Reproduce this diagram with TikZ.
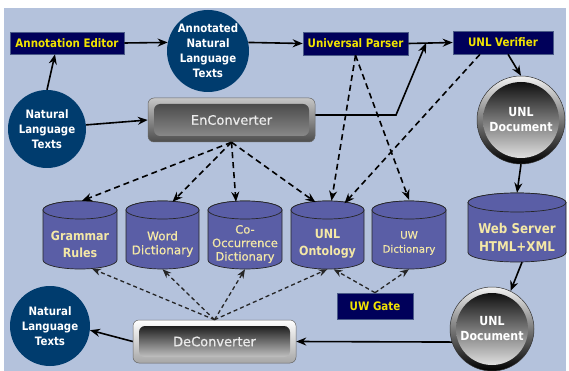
\documentclass[tikz,border=0pt]{standalone}
\usepackage{fontspec}
\setmainfont{DejaVu Sans}
\newfontfamily\bld{DejaVu Sans}[FakeStretch=0.88]
\newfontfamily\med{DejaVu Sans}[FakeBold=0.6]
\usetikzlibrary{arrows.meta,calc}
\definecolor{bgc}{HTML}{B4C2DC}
\definecolor{navy}{HTML}{00005A}
\definecolor{navyedge}{HTML}{4A5A88}
\definecolor{yel}{HTML}{F2E400}
\definecolor{dblue}{HTML}{003C6E}
\definecolor{cylc}{HTML}{5A5EA6}
\definecolor{cyltxt}{HTML}{F4E8A6}
\tikzset{
  navybox/.style={rectangle,fill=navy,draw=navyedge,line width=0.6pt,text=yel,
    font=\bld\bfseries\fontsize{11.7}{13}\selectfont,inner sep=0pt},
  blobc/.style={circle,fill=dblue,text=white,inner sep=0pt,align=center,
    font=\bld\bfseries\fontsize{11.6}{15}\selectfont},
  cylbody/.style={fill=cylc,draw=black!85,line width=0.7pt},
  cyl/.style={rectangle,inner sep=0pt,text=cyltxt,align=center},
  cylbig/.style={cyl,font=\bld\bfseries\fontsize{12.6}{17}\selectfont},
  cylsmall/.style={cyl,font=\med\fontsize{12}{14}\selectfont},
  convbox/.style={rectangle,rounded corners=6pt,draw=black!60,line width=0.5pt,
    text=white!92!black,font=\med\fontsize{13}{15}\selectfont,inner sep=0pt},
  docball/.style={circle,draw=black!80,line width=0.5pt,top color=gray!10,bottom color=black,
    text=white,align=center,inner sep=0pt,font=\bld\bfseries\fontsize{12.5}{15}\selectfont},
  arr/.style={draw=black,line width=1.6pt,-{Stealth[length=10pt,width=8pt]}},
  darr/.style={draw=black,line width=1.6pt,dash pattern=on 6pt off 4pt,-{Stealth[length=10pt,width=8pt]}},
  darrthin/.style={draw=black!85,line width=1.3pt,dash pattern=on 4pt off 3pt,-{Stealth[length=9pt,width=7pt]}}
}
% #1 cx, #2 top y, #3 bottom y, #4 x radius, #5 y radius (image coordinates, y down)
\newcommand{\cylshape}[5]{%
  \path[cylbody] (#1-#4,#2+#5) -- (#1-#4,#3-#5)
    arc[start angle=180,end angle=0,x radius=#4,y radius=#5]
    -- (#1+#4,#2+#5)
    arc[start angle=0,end angle=-180,x radius=#4,y radius=#5] -- cycle;
  \path[cylbody] (#1,#2+#5) ellipse[x radius=#4,y radius=#5];
}
\begin{document}
\begin{tikzpicture}[x=1pt,y=-1pt]
\useasboundingbox (0,0) rectangle (569,371);
\fill[bgc] (4,8) rectangle (566,371);

% top row
\node[navybox,minimum width=114pt,minimum height=22pt] (ae) at (67,43) {Annotation Editor};
\node[blobc,minimum size=82pt] (ant) at (208,51) {Annotated\\Natural\\Language\\Texts};
\node[navybox,minimum width=105pt,minimum height=23pt] (up) at (355.5,43.5) {Universal Parser};
\node[navybox,minimum width=100pt,minimum height=23pt] (ver) at (503,42.5) {UNL Verifier};

\node[blobc,minimum size=78pt] (nlt1) at (47,129) {Natural\\Language\\Texts};

\node[convbox,minimum width=167pt,minimum height=44pt,top color=gray!45,bottom color=black!70,
  path picture={\shade[top color=black!75,bottom color=black!42]
   ([shift={(6pt,-6pt)}]path picture bounding box.north west) rectangle
   ([shift={(-6pt,6pt)}]path picture bounding box.south east);}] (enc) at (231.5,120) {EnConverter};

\node[docball,minimum size=88pt,
  path picture={\shade[top color=black,bottom color=gray!12]
   (path picture bounding box.center) circle (38pt);}] (doc1) at (521,120) {UNL\\Document};

% cylinders (shapes, then their text nodes covering the front face)
\cylshape{80}{201}{269}{37}{9}
\cylshape{162.5}{201}{269}{36.5}{9}
\cylshape{245}{201}{269}{37}{9}
\cylshape{327.5}{201}{269}{36.5}{9}
\cylshape{409}{201}{269}{37}{9}
\cylshape{517}{193}{262}{49}{9.5}
\node[cylbig,minimum width=74pt,minimum height=50pt] (gr) at (80,244) {Grammar\\Rules};
\node[cylsmall,minimum width=73pt,minimum height=50pt] (wd) at (162.5,244) {Word\\Dictionary};
\node[cylsmall,minimum width=74pt,minimum height=50pt,font=\med\fontsize{11.5}{13.5}\selectfont] (co) at (245,244) {Co-\\Occurrence\\Dictionary};
\node[cylbig,minimum width=73pt,minimum height=50pt] (uo) at (327.5,244) {UNL\\Ontology};
\node[cylsmall,minimum width=74pt,minimum height=50pt,font=\med\fontsize{10.3}{14}\selectfont] (uw) at (409,243) {UW\\Dictionary};
\node[cyl,minimum width=98pt,minimum height=50pt,font=\bld\bfseries\fontsize{13.5}{18}\selectfont] (web) at (517,237) {Web Server\\HTML+XML};

% bottom
\node[navybox,minimum width=76pt,minimum height=26pt] (gate) at (375,306) {UW Gate};
\node[docball,minimum size=84pt,
  path picture={\shade[top color=black,bottom color=gray!12]
   (path picture bounding box.center) circle (36pt);}] (doc2) at (492,329) {UNL\\Document};
\node[convbox,minimum width=163pt,minimum height=43pt,top color=white,bottom color=gray!70,
  path picture={\shade[top color=black,bottom color=gray!25]
   ([shift={(6pt,-6pt)}]path picture bounding box.north west) rectangle
   ([shift={(-6pt,6pt)}]path picture bounding box.south east);}] (dec) at (214.5,341.5) {DeConverter};
\node[blobc,minimum size=80pt] (nlt2) at (50,326) {Natural\\Language\\Texts};

% solid connectors
\draw[arr] (nlt1.north) -- ($(ae.south)+(-12,0)$);
\draw[arr] (ae.east) -- (ant.168);
\draw[arr] (ant.12) -- (up.west);
\draw[arr] (up.east) -- (ver.west);
\coordinate (mrg) at ($(up.east)!0.4!(ver.west)$);
\coordinate (bend) at (396,115);
\draw[arr] ($(enc.east)+(0,-5)$) -- (bend) -- (mrg);
\draw[arr] (nlt1.6) -- (enc.west);
\draw[arr] ($(ver.south)+(5,0)$) -- (doc1.north);
\draw[arr] (doc1.south) -- ($(web.north)+(0,-19)$);
\draw[arr] ($(web.south)+(5,0)$) -- (doc2.64);
\draw[arr] (doc2.198) -- (dec.east);
\draw[arr] (dec.west) -- (nlt2.354);

% dashed top
\draw[darr] (enc.south) -- ($(gr.north)+(2,-18)$);
\draw[darr] (enc.south) -- ($(wd.north)+(10,-17)$);
\draw[darr] (enc.south) -- ($(co.north)+(-9,-17)$);
\draw[darr] (enc.south) -- ($(uo.north)+(-12,-16.5)$);
\draw[darr] (up.south) -- ($(uo.north)+(4,-18)$);
\draw[darr] (up.south) -- ($(uw.north)+(0,-18)$);
\draw[darr] ($(ver.south)+(-23,0)$) -- ($(uo.north)+(17,-15.5)$);

% dashed bottom
\draw[darrthin] (dec.north) -- ($(gr.south)+(12,-0.5)$);
\draw[darrthin] (dec.north) -- (wd.south);
\draw[darrthin] (dec.north) -- (co.south);
\draw[darrthin] (dec.north) -- (uo.south);
\draw[darrthin] (gate.north) -- ($(uo.south)+(6,0)$);
\draw[darrthin] (gate.north) -- ($(uw.south)+(0,1)$);
\end{tikzpicture}
\end{document}
